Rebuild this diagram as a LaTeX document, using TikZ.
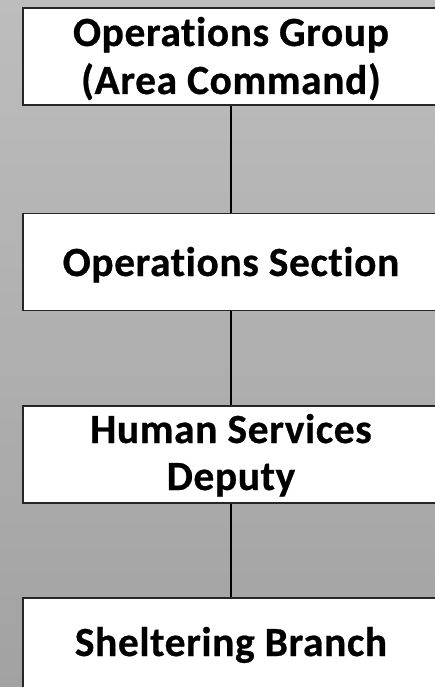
\documentclass[tikz,border=0pt]{standalone}
\usepackage{fontspec}
\setmainfont[Ligatures=NoCommon,LetterSpace=1.4,BoldFeatures={FakeBold=0.6}]{Carlito}
\definecolor{bgtop}{HTML}{BDBDBD}
\definecolor{bgbot}{HTML}{A2A2A2}
\definecolor{edge}{HTML}{262626}
\begin{document}
\begin{tikzpicture}[x=1pt,y=-1pt,
  orgbox/.style={draw=edge,line width=1.8pt,fill=white,minimum width=416pt,minimum height=97pt,inner sep=0pt},
  txt/.style={anchor=base,inner sep=0pt,font=\bfseries\fontsize{41.5}{48}\selectfont},
  link/.style={draw=black,line width=1.4pt}]
\useasboundingbox (0,0) rectangle (435,687);
\clip (0,0) rectangle (435,687);
\shade[top color=bgtop,bottom color=bgbot] (0,0) rectangle (435,687);
\node[orgbox] (b1) at (231,56.5) {};
\node[orgbox] (b2) at (231,262) {};
\node[orgbox] (b3) at (231,454.5) {};
\node[orgbox] (b4) at (231,646.5) {};
\draw[link] (b1.south) -- (b2.north);
\draw[link] (b2.south) -- (b3.north);
\draw[link] (b3.south) -- (b4.north);
\node[txt] (t1a) at (231,46) {Operations Group};
\node[txt] (t1b) at (231,94) {(Area Command)};
\node[txt] (t2) at (231,276) {Operations Section};
\node[txt] (t3a) at (231,443) {Human Services};
\node[txt] (t3b) at (231,490) {Deputy};
\node[txt] (t4) at (231,656) {Sheltering Branch};
\end{tikzpicture}
\end{document}
